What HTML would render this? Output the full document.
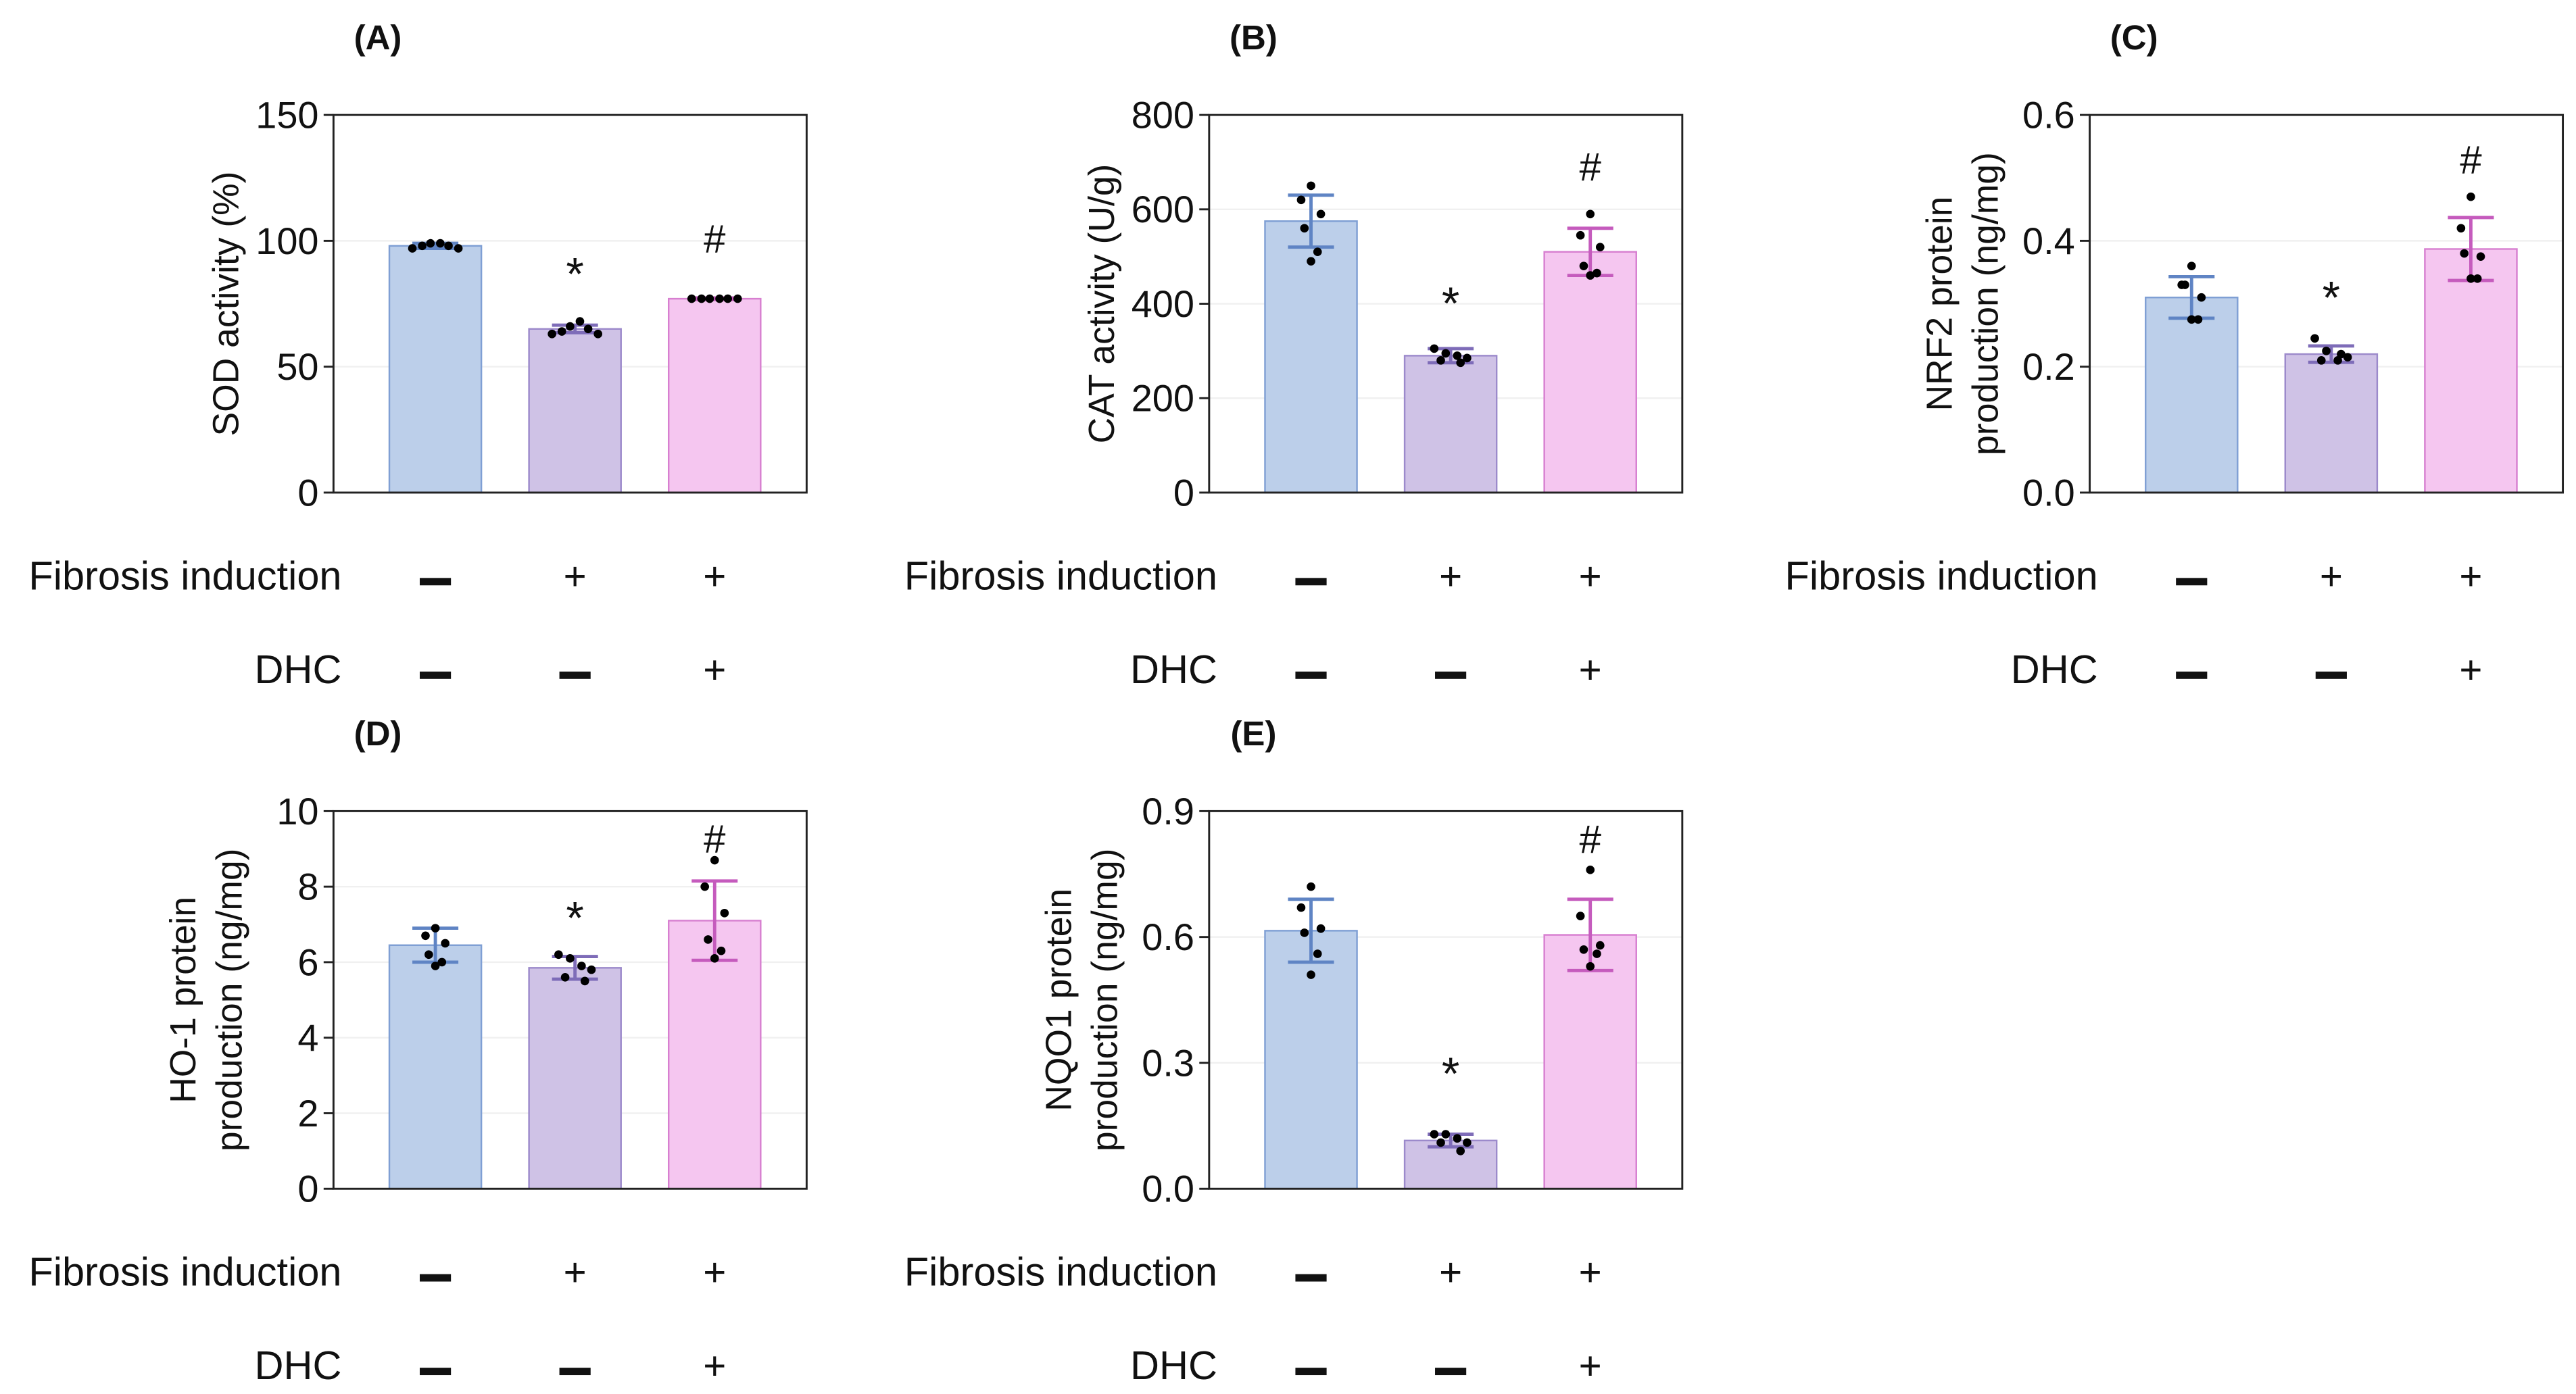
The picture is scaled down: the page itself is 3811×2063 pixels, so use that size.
<!DOCTYPE html>
<html><head><meta charset="utf-8"><style>
html,body{margin:0;padding:0;background:#fff;}
svg{display:block;}
text{font-family:"Liberation Sans",Arial,sans-serif;fill:#111;}
</style></head><body>
<svg id="fig" xmlns="http://www.w3.org/2000/svg" width="3811" height="2063" viewBox="0 0 1568 849" preserveAspectRatio="none"></svg>
<script>
// ---- data ----
const groupLabels = ["Control","Fibrosis","Fibrosis+DHC"];
const fibrosisSigns = ["−","+","+"];
const dhcSigns = ["−","−","+"];

const sodMeans = [98, 65, 77];
const sodSD = [1, 1.5, 0.3];
const sodPoints = [[97,98,99,99,98,97],[63,64,66,68,65,63],[77,77,77,77,77,77]];
const sodTicks = ["0","50","100","150"];

const catMeans = [575, 290, 510];
const catSD = [55, 15, 50];
const catPoints = [[650,620,590,560,510,490],[305,295,290,285,280,275],[590,545,520,480,465,460]];
const catTicks = ["0","200","400","600","800"];

const nrfMeans = [0.31, 0.22, 0.387];
const nrfSD = [0.033, 0.013, 0.05];
const nrfPoints = [[0.36,0.33,0.31,0.33,0.275,0.275],[0.245,0.225,0.21,0.215,0.21,0.22],[0.47,0.42,0.375,0.38,0.34,0.34]];
const nrfTicks = ["0.0","0.2","0.4","0.6"];

const hoMeans = [6.45, 5.85, 7.1];
const hoSD = [0.45, 0.3, 1.05];
const hoPoints = [[6.9,6.7,6.5,6.2,6.0,5.9],[6.2,6.1,5.9,5.8,5.6,5.5],[8.7,8.0,7.3,6.6,6.3,6.1]];
const hoTicks = ["0","2","4","6","8","10"];

const nqoMeans = [0.615, 0.115, 0.605];
const nqoSD = [0.075, 0.015, 0.085];
const nqoPoints = [[0.72,0.67,0.62,0.61,0.56,0.51],[0.13,0.13,0.12,0.11,0.11,0.09],[0.76,0.65,0.58,0.57,0.56,0.53]];
const nqoTicks = ["0.0","0.3","0.6","0.9"];

// ---- style ----
const fills = ["#bccfea","#cfc2e6","#f5c6f0"];
const strokes = ["#7f9fd4","#9c8acb","#d77fd0"];
const errCols = ["#5f84c4","#7e6cb8","#c55bbd"];
const jitter = [[0,-6,6,-4,4,0],[-10,-3,4,10,-6,6],[-14,-8,-3,3,8,14]];

const NS="http://www.w3.org/2000/svg";
const svg=document.getElementById('fig');
function mk(tag,attrs,parent){const e=document.createElementNS(NS,tag);for(const k in attrs)e.setAttribute(k,attrs[k]);(parent||svg).appendChild(e);return e;}

function panel(cfg){
  const g=mk('g',{});
  
  
  const L=cfg.x, R=cfg.x+288, T=cfg.y, B=cfg.y+230;
  const max=parseFloat(cfg.ticks[cfg.ticks.length-1]);
  const ys=v=>B-(v/max)*(B-T);
  const cx=i=>L+62+i*85;
  const t=mk('text',{x:L+27,y:T-40,'font-size':21,'font-weight':'bold','text-anchor':'middle'},g);
  t.textContent=cfg.title;
  
  
  cfg.ticks.forEach(tk=>{
    const v=parseFloat(tk), y=ys(v);
    if(v>0&&v<max){const gl=mk('line',{x1:L,x2:R,y1:y,y2:y,stroke:'#f0f0f0','stroke-width':1},g);
      }
  });
  cfg.means.forEach((m,i)=>{
    const r=mk('rect',{x:cx(i)-28,y:ys(m),width:56,height:B-ys(m),fill:fills[i],stroke:strokes[i],'stroke-width':1},g);
    
    
  });
  cfg.means.forEach((m,i)=>{
    const sd=cfg.sd[i], c=errCols[i];
    const e=mk('g',{stroke:c,'stroke-width':2},g);
    
    
    mk('line',{x1:cx(i),x2:cx(i),y1:ys(m-sd),y2:ys(m+sd)},e);
    mk('line',{x1:cx(i)-14,x2:cx(i)+14,y1:ys(m+sd),y2:ys(m+sd)},e);
    mk('line',{x1:cx(i)-14,x2:cx(i)+14,y1:ys(m-sd),y2:ys(m-sd)},e);
  });
  cfg.points.forEach((arr,i)=>{
    arr.forEach((v,j)=>{
      const p=mk('circle',{cx:cx(i)+jitter[cfg.jit?2:(i===1?1:0)][j],cy:ys(v),r:2.6,fill:'#000'},g);
      
      
    });
  });
  const s1=mk('text',{x:cx(1),y:ys(cfg.starAt)+2,'font-size':28,'text-anchor':'middle'},g);
  s1.textContent='*';
  const s2=mk('text',{x:cx(2),y:ys(cfg.hashAt)+1,'font-size':24,'text-anchor':'middle'},g);
  s2.textContent='#';
  const f=mk('rect',{x:L,y:T,width:R-L,height:B-T,fill:'none',stroke:'#222','stroke-width':1.2},g);
  
  cfg.ticks.forEach(tk=>{
    const y=ys(parseFloat(tk));
    mk('line',{x1:L-6,x2:L,y1:y,y2:y,stroke:'#222','stroke-width':1.2},g);
    const tl=mk('text',{x:L-9,y:y+8,'font-size':23,'text-anchor':'end'},g);
    tl.textContent=tk;
    
    
  });
  const yl=mk('text',{'font-size':22,'text-anchor':'middle',transform:`translate(${L-58-(cfg.ylabel.length>1?26:0)},${(T+B)/2}) rotate(-90)`},g);
  
  
  cfg.ylabel.forEach((ln,k)=>{const ts=mk('tspan',{x:0,dy:k===0?0:28},yl);ts.textContent=ln;});
  const r1=B+59, r2=B+116;
  const fl=mk('text',{x:L+5,y:r1,'font-size':24.5,'text-anchor':'end'},g);
  fl.textContent='Fibrosis induction';
  const dl=mk('text',{x:L+5,y:r2,'font-size':24.5,'text-anchor':'end'},g);
  dl.textContent='DHC';
  [fibrosisSigns,dhcSigns].forEach((signs,k)=>{
    signs.forEach((s,i)=>{
      const y=k===0?r1:r2;
      if(s==='−'){
        const m=mk('rect',{x:cx(i)-9.5,y:y-7,width:19,height:4.5,fill:'#111'},g);
        
      }else{
        const p=mk('text',{x:cx(i),y:y,'font-size':24,'text-anchor':'middle'},g);
        p.textContent='+';
      }
    });
  });
}

panel({name:'panel-a-sod',title:'(A)',x:203,y:70,means:sodMeans,sd:sodSD,points:sodPoints,ticks:sodTicks,ylabel:['SOD activity (%)'],starAt:82,hashAt:96,jit:true});
panel({name:'panel-b-cat',title:'(B)',x:736,y:70,means:catMeans,sd:catSD,points:catPoints,ticks:catTicks,ylabel:['CAT activity (U/g)'],starAt:375,hashAt:665});
panel({name:'panel-c-nrf2',title:'(C)',x:1272,y:70,means:nrfMeans,sd:nrfSD,points:nrfPoints,ticks:nrfTicks,ylabel:['NRF2 protein','production (ng/mg)'],starAt:0.29,hashAt:0.51});
panel({name:'panel-d-ho1',title:'(D)',x:203,y:494,means:hoMeans,sd:hoSD,points:hoPoints,ticks:hoTicks,ylabel:['HO-1 protein','production (ng/mg)'],starAt:6.85,hashAt:8.95});
panel({name:'panel-e-nqo1',title:'(E)',x:736,y:494,means:nqoMeans,sd:nqoSD,points:nqoPoints,ticks:nqoTicks,ylabel:['NQO1 protein','production (ng/mg)'],starAt:0.245,hashAt:0.805});
</script>
</body></html>
